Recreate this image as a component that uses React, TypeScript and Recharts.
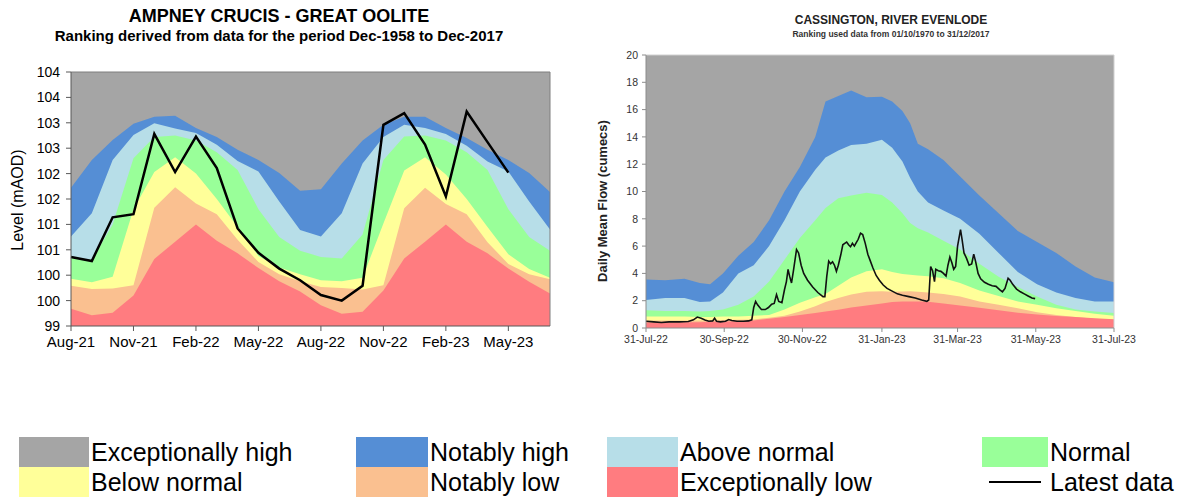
import {
  Area, CartesianGrid, ComposedChart, Line, ReferenceLine, XAxis, YAxis,
} from "recharts";

const C = {
  exHigh: "#a5a5a5",
  notHigh: "#558ed5",
  above: "#b7dee8",
  normal: "#99ff99",
  below: "#ffff99",
  notLow: "#fac090",
  exLow: "#ff7c80",
};

// ---- Ampney Crucis (groundwater level, mAOD), monthly
const ampneyMonths = [
  "Aug-21", "Sep-21", "Oct-21", "Nov-21", "Dec-21", "Jan-22", "Feb-22", "Mar-22", "Apr-22", "May-22", "Jun-22", "Jul-22",
  "Aug-22", "Sep-22", "Oct-22", "Nov-22", "Dec-22", "Jan-23", "Feb-23", "Mar-23", "Apr-23", "May-23", "Jun-23", "Jul-23",
];
// upper edge of each ranking band
const ampneyNotablyHigh = [101.72, 102.27, 102.66, 102.98, 103.12, 103.14, 102.9, 102.72, 102.47, 102.27, 102.01, 101.66, 101.69, 102.2, 102.65, 102.96, 103.12, 103.12, 102.9, 102.7, 102.47, 102.27, 102.01, 101.64];
const ampneyAboveNormal = [100.76, 101.22, 102.27, 102.76, 102.99, 102.89, 102.8, 102.57, 102.25, 102.04, 101.45, 100.89, 100.76, 101.22, 102.2, 102.72, 102.96, 102.9, 102.78, 102.55, 102.24, 102.04, 101.45, 100.9];
const ampneyNormal = [100.36, 100.3, 101.0, 102.3, 102.72, 102.75, 102.65, 102.42, 102.07, 101.3, 100.75, 100.48, 100.36, 100.33, 100.8, 102.27, 102.73, 102.75, 102.65, 102.42, 102.07, 101.3, 100.75, 100.48];
const ampneyBelowNormal = [99.93, 99.86, 99.97, 101.3, 102.03, 102.32, 102.0, 101.5, 100.95, 100.38, 100.15, 100.02, 99.9, 99.88, 99.95, 101.02, 102.06, 102.32, 101.98, 101.5, 100.95, 100.41, 100.12, 99.95];
const ampneyNotablyLow = [99.79, 99.73, 99.74, 99.8, 101.33, 101.73, 101.41, 101.2, 100.7, 100.26, 100.02, 99.88, 99.77, 99.75, 99.72, 99.8, 101.32, 101.72, 101.4, 101.2, 100.65, 100.22, 100.02, 99.92];
const ampneyExceptionallyLow = [99.34, 99.21, 99.26, 99.6, 100.32, 100.66, 101.0, 100.68, 100.43, 100.14, 99.88, 99.68, 99.41, 99.24, 99.28, 99.7, 100.33, 100.66, 101.0, 100.66, 100.43, 100.13, 99.87, 99.64];
const ampneyLatest = [100.36, 100.28, 101.14, 101.2, 102.78, 102.03, 102.73, 102.11, 100.92, 100.44, 100.13, 99.9, 99.61, 99.5, 99.79, 102.96, 103.19, 102.57, 101.55, 103.22, 102.62, 102.02, null, null];
const ampneyTicks = [99, 99.5, 100, 100.5, 101, 101.5, 102, 102.5, 103, 103.5, 104];

const ampneyData = ampneyMonths.map((m, i) => ({
  m,
  nh: ampneyNotablyHigh[i], an: ampneyAboveNormal[i], no: ampneyNormal[i],
  bn: ampneyBelowNormal[i], nl: ampneyNotablyLow[i], el: ampneyExceptionallyLow[i],
  latest: ampneyLatest[i],
}));

// ---- Cassington, River Evenlode (daily mean flow, cumecs); x = days since 31-Jul-22
const evenlodeTickLabels = ["31-Jul-22", "30-Sep-22", "30-Nov-22", "31-Jan-23", "31-Mar-23", "31-May-23", "31-Jul-23"];
const evenlodeTickDays = [0, 61, 122, 184, 243, 304, 365];
const evenlodeFlowTicks = [0, 2, 4, 6, 8, 10, 12, 14, 16, 18, 20];

const evenlodeBandDays = [0, 15, 30, 42, 50, 60, 72, 84, 96, 108, 120, 132, 140, 150, 160, 172, 184, 192, 200, 206, 212, 220, 232, 245, 260, 275, 290, 305, 320, 335, 350, 365];
const evenlodeNotablyHigh = [3.55, 3.5, 3.6, 3.3, 3.2, 4.0, 5.3, 6.3, 7.9, 10.0, 11.8, 14.0, 16.6, 17.0, 17.4, 16.9, 16.95, 16.6, 15.9, 15.0, 13.5, 13.1, 12.3, 11.1, 9.7, 8.4, 7.1, 6.3, 5.5, 4.5, 3.7, 3.35];
const evenlodeAboveNormal = [2.05, 2.2, 2.2, 1.9, 1.95, 2.6, 4.0, 4.6, 6.0, 7.9, 10.0, 11.6, 12.5, 13.0, 13.4, 13.5, 13.8, 13.2, 12.2, 11.0, 10.0, 9.2, 8.6, 8.0, 6.9, 5.5, 4.1, 3.2, 2.6, 2.2, 1.95, 1.95];
const evenlodeNormal = [1.3, 1.25, 1.25, 1.2, 1.25, 1.35, 1.7, 2.3, 3.4, 5.0, 6.6, 7.9, 8.8, 9.5, 9.7, 9.9, 9.75, 9.2, 8.4, 7.7, 7.3, 7.0, 6.4, 5.75, 4.7, 3.75, 3.0, 2.3, 1.7, 1.35, 1.2, 1.1];
const evenlodeBelowNormal = [0.85, 0.85, 0.85, 0.8, 0.8, 0.85, 0.85, 0.9, 0.95, 1.35, 1.85, 2.25, 2.5, 3.1, 3.7, 4.15, 4.3, 4.1, 3.95, 3.9, 3.85, 3.8, 3.65, 3.3, 2.75, 2.35, 1.95, 1.7, 1.45, 1.25, 1.05, 0.9];
const evenlodeNotablyLow = [0.55, 0.55, 0.55, 0.55, 0.55, 0.58, 0.6, 0.62, 0.75, 0.9, 1.2, 1.6, 1.9, 2.2, 2.45, 2.65, 2.7, 2.65, 2.68, 2.7, 2.65, 2.6, 2.5, 2.3, 1.95, 1.7, 1.45, 1.15, 0.95, 0.8, 0.68, 0.6];
const evenlodeExceptionallyLow = [0.4, 0.4, 0.42, 0.43, 0.45, 0.47, 0.5, 0.55, 0.68, 0.8, 0.95, 1.1, 1.2, 1.33, 1.5, 1.65, 1.8, 1.9, 1.95, 1.95, 1.95, 1.92, 1.8, 1.65, 1.48, 1.3, 1.12, 0.98, 0.88, 0.8, 0.72, 0.65];

const evenlodeFlowDays = [
  0, 6, 12, 18, 26, 33, 37, 40, 43, 46, 49, 52, 53.5, 55, 58, 62, 64.5, 67, 71, 76, 80, 82.5, 84, 85.5, 87, 90, 93, 95.5, 98, 100,
  101.8, 103.5, 106, 108, 109.5, 110.8, 112, 113.5, 115, 117.4, 119, 121, 123, 126, 130, 134, 138, 139.5, 141, 142.5, 144, 145.5,
  147, 148.5, 150, 152, 153.5, 155, 156.5, 158, 159.5, 161, 162.5, 164, 165.5, 167.3, 169, 171, 173, 175, 177, 179.5, 182, 185,
  188, 192, 196, 200, 205, 210, 215, 219, 220.5, 222, 223.5, 225, 226, 228, 230, 232, 234, 235.5, 237, 238.5, 240, 241.5, 243,
  245.3, 246.5, 248, 250, 252, 254, 255.6, 257, 259, 261, 264, 267, 270, 273, 276, 278, 280, 282.4, 284, 286, 289, 292, 295, 298,
  301, 303.5,
];
const evenlodeFlow = [
  0.5, 0.45, 0.4, 0.45, 0.45, 0.48, 0.6, 0.8, 0.72, 0.58, 0.5, 0.52, 0.72, 0.5, 0.45, 0.5, 0.62, 0.55, 0.5, 0.5, 0.52, 0.6, 1.5, 1.95, 1.7, 1.35, 1.35, 1.5, 1.75, 1.8,
  2.45, 1.95, 1.85, 2.8, 3.4, 4.3, 3.8, 3.3, 4.2, 5.75, 5.5, 4.6, 4.0, 3.5, 3.0, 2.6, 2.3, 2.3, 3.8, 4.9, 4.7, 4.85,
  4.6, 4.15, 4.6, 5.4, 6.1, 6.2, 6.3, 6.1, 5.95, 6.2, 6.0, 6.25, 6.5, 6.95, 6.85, 6.2, 5.4, 4.9, 4.4, 3.85, 3.5, 3.15,
  2.9, 2.7, 2.5, 2.4, 2.3, 2.2, 2.05, 1.95, 2.05, 4.5, 4.2, 3.4, 4.3, 4.2, 4.15, 4.0, 3.8, 4.6, 5.2, 4.8, 4.3, 4.5, 6.0,
  7.2, 6.5, 5.5, 5.1, 4.6, 4.7, 5.4, 4.9, 4.0, 3.6, 3.35, 3.2, 3.1, 3.05, 2.8, 2.65, 2.9, 3.65, 3.5, 3.2, 2.85, 2.65, 2.5, 2.35,
  2.2, 2.15,
];

const evenlodeRows = new Map<number, Record<string, number>>();
evenlodeBandDays.forEach((day, i) => {
  evenlodeRows.set(day, {
    day,
    nh: evenlodeNotablyHigh[i], an: evenlodeAboveNormal[i], no: evenlodeNormal[i],
    bn: evenlodeBelowNormal[i], nl: evenlodeNotablyLow[i], el: evenlodeExceptionallyLow[i],
  });
});
evenlodeFlowDays.forEach((day, i) => {
  const row = evenlodeRows.get(day) ?? { day };
  row.flow = evenlodeFlow[i];
  evenlodeRows.set(day, row);
});
const evenlodeData = [...evenlodeRows.values()].sort((a, b) => a.day - b.day);

const bands: [string, string][] = [
  ["nh", C.notHigh], ["an", C.above], ["no", C.normal], ["bn", C.below], ["nl", C.notLow], ["el", C.exLow],
];

const legendRows: [string, string | null][][] = [
  [["Exceptionally high", C.exHigh], ["Notably high", C.notHigh], ["Above normal", C.above], ["Normal", C.normal]],
  [["Below normal", C.below], ["Notably low", C.notLow], ["Exceptionally low", C.exLow], ["Latest data", null]],
];
const legendCols = [{ x: 19, w: 70 }, { x: 356, w: 72 }, { x: 607, w: 71 }, { x: 982, w: 66 }];

const FONT = "'Liberation Sans', Arial, sans-serif";

function bandAreas(connect: boolean) {
  return bands.map(([key, color]) => (
    <Area
      key={key} dataKey={key} type="linear" baseValue="dataMin" stroke="none" fill={color} fillOpacity={1}
      connectNulls={connect} dot={false} activeDot={false} isAnimationActive={false}
    />
  ));
}

function AmpneyChart() {
  return (
    <div style={{ position: "absolute", left: 0, top: 0 }}>
      <div style={{ position: "absolute", left: 0, width: 558, top: 6, textAlign: "center", fontWeight: 700, fontSize: 18 }}>
        AMPNEY CRUCIS - GREAT OOLITE
      </div>
      <div style={{ position: "absolute", left: 0, width: 558, top: 27, textAlign: "center", fontWeight: 700, fontSize: 15 }}>
        Ranking derived from data for the period Dec-1958 to Dec-2017
      </div>
      <div style={{
        position: "absolute", left: 18, top: 200, fontSize: 16, whiteSpace: "nowrap",
        transform: "translate(-50%, -50%) rotate(-90deg)",
      }}>
        Level (mAOD)
      </div>
      <ComposedChart width={575} height={362} data={ampneyData} margin={{ top: 72, right: 25, bottom: 6, left: 16 }}>
        <CartesianGrid fill={C.exHigh} horizontal={false} vertical={false} />
        <XAxis
          dataKey="m" scale="point" interval={2} height={30} tickSize={5} tickMargin={5}
          tick={{ fill: "#000", fontSize: 15 }} axisLine={{ stroke: "#595959" }} tickLine={{ stroke: "#595959" }}
        />
        <YAxis
          domain={[99, 104]} ticks={ampneyTicks} width={55} tickSize={5} tickMargin={6} allowDataOverflow
          tickFormatter={(v: number) => String(Math.round(v))}
          tick={{ fill: "#000", fontSize: 14 }} axisLine={{ stroke: "#595959" }} tickLine={{ stroke: "#595959" }}
        />
        {bandAreas(false)}
        <ReferenceLine y={104} stroke="#7f7f7f" />
        <ReferenceLine x="Jul-23" stroke="#7f7f7f" />
        <Line dataKey="latest" type="linear" stroke="#000" strokeWidth={2.5} dot={false} activeDot={false} isAnimationActive={false} />
      </ComposedChart>
    </div>
  );
}

function EvenlodeChart() {
  return (
    <div style={{ position: "absolute", left: 580, top: 0 }}>
      <div style={{ position: "absolute", left: 196, width: 230, top: 13, textAlign: "center", fontWeight: 700, fontSize: 12, color: "#222" }}>
        CASSINGTON, RIVER EVENLODE
      </div>
      <div style={{ position: "absolute", left: 196, width: 230, top: 29, textAlign: "center", fontWeight: 700, fontSize: 8.5, color: "#333" }}>
        Ranking used data from 01/10/1970 to 31/12/2017
      </div>
      <div style={{
        position: "absolute", left: 22, top: 201, fontSize: 13, fontWeight: 700, whiteSpace: "nowrap", color: "#222",
        transform: "translate(-50%, -50%) rotate(-90deg)",
      }}>
        Daily Mean Flow (cumecs)
      </div>
      <ComposedChart width={560} height={362} data={evenlodeData} margin={{ top: 55, right: 26, bottom: 6, left: 26 }}>
        <CartesianGrid fill={C.exHigh} horizontal={false} vertical={false} />
        <XAxis
          dataKey="day" type="number" domain={[0, 365]} ticks={evenlodeTickDays} interval={0} height={28}
          tickSize={4} tickMargin={4}
          tickFormatter={(v: number) => evenlodeTickLabels[evenlodeTickDays.indexOf(v)] ?? ""}
          tick={{ fill: "#333", fontSize: 10.5 }} axisLine={{ stroke: "#8c8c8c" }} tickLine={{ stroke: "#8c8c8c" }}
        />
        <YAxis
          domain={[0, 20]} ticks={evenlodeFlowTicks} width={40} tickSize={4} tickMargin={4} allowDataOverflow
          tick={{ fill: "#333", fontSize: 10.5 }} axisLine={{ stroke: "#8c8c8c" }} tickLine={{ stroke: "#8c8c8c" }}
        />
        {bandAreas(true)}
        <ReferenceLine y={20} stroke="#d0d0d0" />
        <ReferenceLine x={365} stroke="#d0d0d0" />
        <Line dataKey="flow" type="linear" stroke="#111" strokeWidth={1.6} connectNulls dot={false} activeDot={false} isAnimationActive={false} />
      </ComposedChart>
    </div>
  );
}

function Legend() {
  return (
    <>
      {legendRows.map((row, r) =>
        row.map(([label, color], c) => {
          const col = legendCols[c];
          const top = 437 + r * 30;
          return (
            <div key={label} style={{ position: "absolute", left: col.x, top, height: 30, display: "flex", alignItems: "center" }}>
              {color ? (
                <div style={{ width: col.w, height: 30, background: color }} />
              ) : (
                <div style={{ width: col.w, height: 30, display: "flex", alignItems: "center", justifyContent: "center" }}>
                  <div style={{ width: 52, height: 2, background: "#000" }} />
                </div>
              )}
              <span style={{ marginLeft: 2, fontSize: 25, color: "#000", whiteSpace: "nowrap" }}>{label}</span>
            </div>
          );
        }),
      )}
    </>
  );
}

export default function App() {
  return (
    <div style={{
      position: "fixed", left: 0, top: 0, width: 1177, height: 499, background: "#fff",
      fontFamily: FONT, overflow: "hidden",
    }}>
      <AmpneyChart />
      <EvenlodeChart />
      <Legend />
    </div>
  );
}
